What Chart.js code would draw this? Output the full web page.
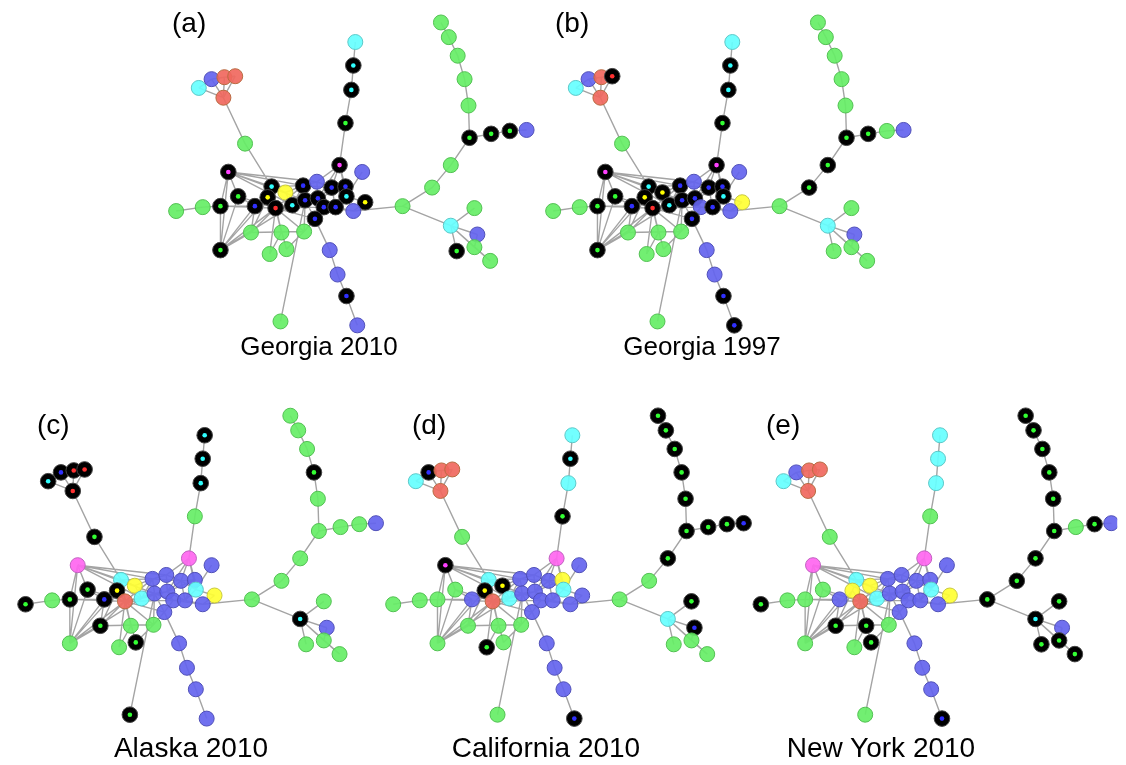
<!DOCTYPE html>
<html>
<head>
<meta charset="utf-8">
<script src="https://cdn.jsdelivr.net/npm/chart.js@4.4.0/dist/chart.umd.min.js"></script>
<style>
  html, body { margin: 0; padding: 0; background: #fff; }
  #wrap { position: relative; width: 1126px; height: 765px; overflow: hidden; }
  #net { position: absolute; left: 0; top: 0; }
  .lbl { position: absolute; font-family: "Liberation Sans", Arial, sans-serif; color: #000; white-space: nowrap; line-height: 1; }
</style>
</head>
<body>
<div id="wrap">
  <canvas id="net" width="1126" height="765"></canvas>
</div>
<script>
// node layout (same layout in every panel, coordinates of panel a)
const nodeX = [193, 206, 219, 230, 218, 240, 352, 350, 348, 342,
               336, 439, 447, 456, 463, 467, 468, 490, 509, 526,
               449, 430, 400, 449, 473, 476, 473, 489, 455, 326,
               334, 343, 354, 276, 170, 197, 215, 223, 233, 250,
               215, 246, 277, 300, 265, 282, 267, 281, 263, 271,
               288, 299, 313, 328, 342, 359, 343, 362, 301, 314,
               320, 332, 350, 311];
const nodeY = [81, 72, 70, 69, 91, 138, 34, 58, 83, 117,
               160, 14, 29, 48, 72, 99, 132, 128, 125, 124,
               160, 183, 202, 222, 204, 231, 244, 258, 248, 247,
               272, 294, 324, 320, 207, 203, 202, 167, 192, 202,
               247, 229, 229, 228, 251, 246, 182, 188, 193, 204,
               201, 181, 177, 183, 182, 167, 192, 198, 196, 194,
               203, 203, 207, 215];

const edges = [
  [0,4],[1,4],[2,4],[3,4],[0,1],[1,2],[2,3],[4,5],[5,46],
  [6,7],[7,8],[8,9],[9,10],[10,52],[10,53],[10,54],[10,56],[10,59],
  [11,12],[12,13],[13,14],[14,15],[15,16],[16,17],[17,18],[18,19],[16,20],[20,21],[21,22],[22,62],[22,23],
  [23,24],[23,25],[23,26],[23,28],[25,26],[26,27],[23,27],
  [63,29],[29,30],[30,31],[31,32],[33,58],
  [34,35],[35,36],[36,37],[36,39],[36,40],[37,38],[37,40],[37,46],[37,47],[37,50],[37,51],[37,52],[37,58],
  [38,39],[38,40],[38,49],[39,40],[40,49],[40,48],[40,50],[40,41],[39,41],[41,43],[41,49],[42,49],[42,44],
  [43,45],[43,49],[43,63],[44,49],[45,49],[42,46],[43,58],[41,48],[36,49],
  [46,47],[46,48],[46,49],[47,50],[48,49],[49,50],[49,58],[49,59],[50,51],[50,58],[51,52],[51,53],[52,53],
  [53,54],[54,56],[55,56],[56,57],[56,61],[58,59],[59,60],[60,61],[61,62],[62,57],[58,63],[60,63],[53,59],
  [54,61],[51,58],[52,59],[49,51],[47,51],[46,51],[53,56],[59,61],[49,60],[49,63],[50,59],[54,59],[60,62],
  [53,61],[58,60]
];

// node colour per panel: lower case = plain node, upper case = black node with coloured centre
const panelCodes = [
  'cbrrrgcCCG' + 'MgggggGGGb' + 'gggcgbggGb' + 'bBbgggGMGB' + 'GgggggCyYR' + 'CBbBBbCYBB' + 'BBbB',
  'cbrRrgcCCG' + 'MgggggGGgb' + 'GGgcgbgggb' + 'bBBgggGMGB' + 'GgggggCYYR' + 'CBbBBbCyBB' + 'bBbB',
  'CBRRRGCCCg' + 'mgggGggggb' + 'gggCgbgggb' + 'bbbGGgGmGB' + 'gGgggGcyYr' + 'cbbbbbcybb' + 'bbbb',
  'cBrrrgcCcG' + 'mGGGGGGGGB' + 'GggcGBgggb' + 'bbBggggMgb' + 'ggggGgcYYr' + 'cbbbybcbbb' + 'bbbb',
  'cbrrrgcccg' + 'mGGGGGGgGb' + 'GGGCGbGGGb' + 'bbBgGggmgb' + 'gGGggGcyyr' + 'cbbbbbcybb' + 'bbbb'
];
const panelDX = [0, 383, -153, 220.5, 594];
const panelDY = [0, 0, 402.5, 402.5, 402.5];
const panelTags = ['(a)', '(b)', '(c)', '(d)', '(e)'];
const panelNames = ['Georgia 2010', 'Georgia 1997', 'Alaska 2010', 'California 2010', 'New York 2010'];

const fillColor = { g: 'rgba(102,238,102,0.92)', b: 'rgba(100,100,238,0.92)', c: 'rgba(102,255,255,0.92)',
                    r: 'rgba(240,104,94,0.92)', m: 'rgba(255,102,240,0.92)', y: 'rgba(255,255,51,0.92)' };
const edgeColorOf = { g: '#52c052', b: '#5050b8', c: '#5cc8c8', r: '#b86a40', m: '#c060c0', y: '#c8c840' };
const dotColor = { g: '#33ff33', b: '#3030ff', c: '#30ffff', r: '#ff3030', m: '#ff40ff', y: '#ffff00' };

function buildDatasets() {
  const sets = [];
  panelCodes.forEach((codes, p) => {
    const dx = panelDX[p], dy = panelDY[p];
    const edgeData = [];
    edges.forEach(([i, j]) => {
      edgeData.push({ x: nodeX[i] + dx, y: nodeY[i] + dy });
      edgeData.push({ x: nodeX[j] + dx, y: nodeY[j] + dy });
      edgeData.push({ x: null, y: null });
    });
    sets.push({ data: edgeData, showLine: true, spanGaps: false, borderColor: '#a4a4a4', borderWidth: 1.4,
                pointRadius: 0, pointHoverRadius: 0, order: 3 });

    const nodes = [], bg = [], bd = [], rad = [], dots = [], dotBg = [];
    codes.split('').forEach((code, i) => {
      const k = code.toLowerCase();
      const pt = { x: nodeX[i] + dx, y: nodeY[i] + dy };
      nodes.push(pt);
      if (code === k) {
        bg.push(fillColor[k]);
        bd.push(edgeColorOf[k]);
        rad.push(7.5);
      } else {
        bg.push('#000000');
        bd.push('#444444');
        rad.push(7.8);
        dots.push(pt);
        dotBg.push(dotColor[k]);
      }
    });
    sets.push({ data: nodes, pointRadius: rad, pointHoverRadius: rad, pointBackgroundColor: bg, pointBorderColor: bd,
                pointBorderWidth: 1, showLine: false, order: 2 });
    sets.push({ data: dots, pointRadius: 2.3, pointHoverRadius: 2.3, pointBackgroundColor: dotBg, pointBorderWidth: 0,
                showLine: false, order: 1 });
  });
  return sets;
}

function addLabels() {
  const wrap = document.getElementById('wrap');
  const tagPos = [[172, 33], [555, 33], [37, 435], [412, 435], [766, 435]];
  const namePos = [[319, 355, 26], [702, 355, 26], [191, 758, 28], [546, 758, 28], [881, 758, 28]];
  panelTags.forEach((t, p) => {
    const d = document.createElement('div');
    d.className = 'lbl';
    d.textContent = t;
    d.style.fontSize = '28px';
    d.style.left = tagPos[p][0] + 'px';
    d.style.top = (tagPos[p][1] - 0.8465 * 28) + 'px';
    wrap.appendChild(d);
  });
  panelNames.forEach((t, p) => {
    const [cx, base, fs] = namePos[p];
    const d = document.createElement('div');
    d.className = 'lbl';
    d.textContent = t;
    d.style.fontSize = fs + 'px';
    d.style.left = cx + 'px';
    d.style.transform = 'translateX(-50%)';
    d.style.top = (base - 0.8465 * fs) + 'px';
    wrap.appendChild(d);
  });
}

window.addEventListener('DOMContentLoaded', () => {
  const ctx = document.getElementById('net').getContext('2d');
  new Chart(ctx, {
    type: 'scatter',
    data: { datasets: buildDatasets() },
    options: {
      responsive: false,
      animation: false,
      events: [],
      layout: { padding: 0 },
      plugins: { legend: { display: false }, tooltip: { enabled: false } },
      scales: {
        x: { type: 'linear', min: 0, max: 1126, display: false },
        y: { type: 'linear', min: 0, max: 765, reverse: true, display: false }
      }
    }
  });
  addLabels();
});
</script>
</body>
</html>
